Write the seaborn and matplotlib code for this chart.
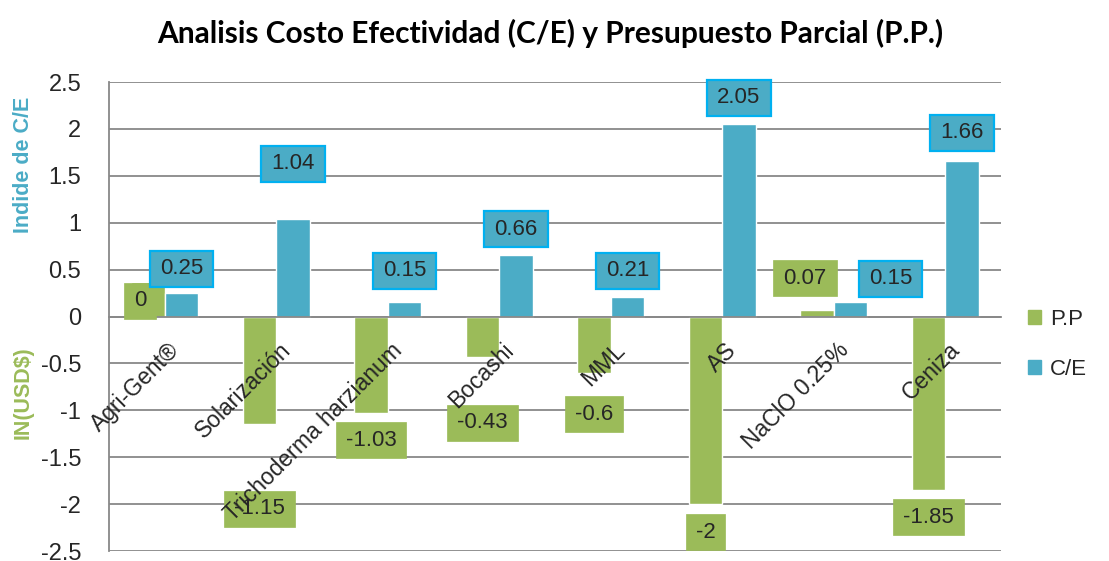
import numpy as np
import pandas as pd
import seaborn as sns
import matplotlib.pyplot as plt
from matplotlib.patches import Patch, Rectangle
from matplotlib.transforms import ScaledTranslation

categories = ["Agri-Gent®", "Solarización", "Trichoderma harzianum", "Bocashi",
              "MML", "AS", "NaClO 0.25%", "Ceniza"]
pp_values = [0.37, -1.15, -1.03, -0.43, -0.6, -2.0, 0.07, -1.85]
ce_values = [0.25, 1.04, 0.15, 0.66, 0.21, 2.05, 0.15, 1.66]
pp_labels = ["0", "-1.15", "-1.03", "-0.43", "-0.6", "-2", "0.07", "-1.85"]
ce_labels = ["0.25", "1.04", "0.15", "0.66", "0.21", "2.05", "0.15", "1.66"]

# data label placement (y in data units, x shift in pixels), hand placed in the original
pp_label_y = [0.17, -2.05, -1.32, -1.13, -1.04, -2.30, 0.41, -2.14]
ce_label_y = [0.51, 1.63, 0.49, 0.93, 0.49, 2.33, 0.40, 1.96]
pp_label_dx = [-8, 0, 0, 0, 0, 0, -12, 0]
ce_label_dx = [0, 0, 0, 0, 0, 0, 40, 0]

green = "#9BBB59"
blue = "#4BACC6"
cyan = "#00B0F0"
gray = "#888888"
txt = "#262626"

sns.set_style("white")
plt.rcParams['font.family'] = ['Liberation Sans', 'DejaVu Sans']

df = pd.DataFrame({
    "categoria": categories * 2,
    "serie": ["P.P"] * len(categories) + ["C/E"] * len(categories),
    "valor": pp_values + ce_values,
})

fig, ax = plt.subplots(figsize=(11.09, 5.61), dpi=100)
fig.subplots_adjust(left=0.0983, right=0.9026, top=0.8538, bottom=0.0178)

sns.barplot(data=df, x="categoria", y="valor", hue="serie", hue_order=["P.P", "C/E"],
            palette=[green, blue], width=0.6, saturation=1, errorbar=None,
            legend=False, ax=ax, zorder=2)

ax.set_ylim(-2.5, 2.5)
ax.set_xlim(-0.5, len(categories) - 0.5)
yt = np.arange(-2.5, 2.51, 0.5)
ax.set_yticks(yt, [f"{round(v, 1):g}" for v in yt])
ax.yaxis.grid(True, color=gray, lw=1.3, zorder=0)
ax.set_axisbelow(True)

for s in ["top", "right"]:
    ax.spines[s].set_visible(False)
for s in ["left", "bottom"]:
    ax.spines[s].set_color(gray)
    ax.spines[s].set_linewidth(1.3)
ax.spines["bottom"].set_position(("data", 0))

ax.set_xticks(np.arange(0.5, len(categories), 1), [""] * len(categories))
ax.tick_params(axis="x", which="major", length=6, width=1.3, color=gray, direction="out")
ax.tick_params(axis="y", length=7, width=1.3, color=gray, direction="out", labelsize=17,
               labelcolor=txt, pad=13)
ax.set_xlabel("")
ax.set_ylabel("")

# category names sit just under the zero line, on top of the bars
for i, cat in enumerate(categories):
    off = ScaledTranslation(3 / 100, -22 / 100, fig.dpi_scale_trans)
    ax.text(i, 0, cat, transform=ax.transData + off, rotation=45, ha="right", va="top",
            rotation_mode="anchor", fontsize=16.5, color=txt, zorder=7)

# data labels
boxes = []
for bar, lab, y, dx in zip(ax.containers[0], pp_labels, pp_label_y, pp_label_dx):
    x = bar.get_x() + bar.get_width() / 2
    t = ax.text(x, y, lab, transform=ax.transData + ScaledTranslation(dx / 100, 0, fig.dpi_scale_trans),
                ha="center", va="center", fontsize=16, color=txt, zorder=6)
    boxes.append((t, green, green, 0.5))
for bar, lab, y, dx in zip(ax.containers[1], ce_labels, ce_label_y, ce_label_dx):
    x = bar.get_x() + bar.get_width() / 2
    t = ax.text(x, y, lab, transform=ax.transData + ScaledTranslation(dx / 100, 0, fig.dpi_scale_trans),
                ha="center", va="center", fontsize=16, color=txt, zorder=6)
    boxes.append((t, blue, cyan, 1.6))

fig.canvas.draw()
renderer = fig.canvas.get_renderer()
for t, fc, ec, lw in boxes:
    bb = t.get_window_extent(renderer)
    cx = (bb.x0 + bb.x1) / 2
    cy = (bb.y0 + bb.y1) / 2
    w = bb.width + 20
    h = 36
    fx, fy = fig.transFigure.inverted().transform((cx - w / 2, cy - h / 2))
    ax.add_patch(Rectangle((fx, fy), w / fig.bbox.width, h / fig.bbox.height,
                           transform=fig.transFigure, fc=fc, ec=ec, lw=lw,
                           zorder=5, clip_on=False))

handles = [Patch(color=green, label="P.P"), Patch(color=blue, label="C/E")]
ax.legend(handles=handles, loc="center left", bbox_to_anchor=(1.03, 0.441), frameon=False,
          fontsize=16, handlelength=0.6, handleheight=0.6, handletextpad=0.4,
          labelspacing=1.3, borderaxespad=0, borderpad=0, labelcolor=txt)

fig.text(0.496, 0.941, "Analisis Costo Efectividad (C/E) y Presupuesto Parcial (P.P.)",
         ha="center", va="center", fontsize=21.5, fontweight="bold", family="Lato", color="black")
fig.text(0.021, 1 - 165 / 561, "Indide de C/E", rotation=90, ha="center", va="center",
         fontsize=15.5, fontweight="bold", color=blue)
fig.text(0.021, 1 - 393 / 561, "IN(USD$)", rotation=90, ha="center", va="center",
         fontsize=15.5, fontweight="bold", color=green)

fig.savefig("out.png", dpi=100)
